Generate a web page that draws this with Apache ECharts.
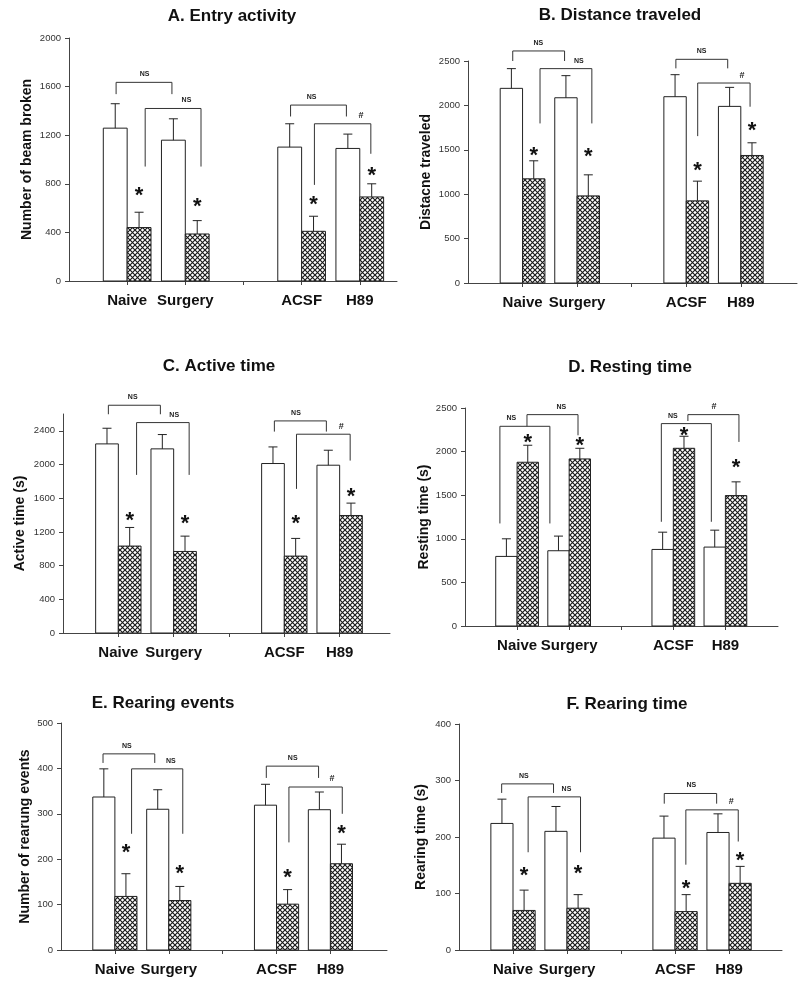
<!DOCTYPE html>
<html>
<head>
<meta charset="utf-8">
<script src="https://cdn.jsdelivr.net/npm/echarts@6/dist/echarts.min.js"></script>
<style>
  html, body { margin: 0; padding: 0; background: #fff; }
  #chart { width: 800px; height: 987px; }
</style>
</head>
<body>
<div id="chart"></div>
<script>
// panel texts
const titles = ['A. Entry activity', 'B. Distance traveled', 'C. Active time',
  'D. Resting time', 'E. Rearing events', 'F. Rearing time'];
const yNames = ['Number of beam broken', 'Distacne traveled', 'Active time (s)',
  'Resting time (s)', 'Number of rearung events', 'Rearing time (s)'];
const groups = ['Naive', 'Surgery', 'ACSF', 'H89'];

// y axes
const yMax = [2000, 2500, 2600, 2500, 500, 400];
const yStep = [400, 500, 400, 500, 100, 100];

// open bars (mean, upper error)
const openMean = [
  [1258, 1159, 1102, 1091],
  [2192, 2086, 2098, 1989],
  [2245, 2186, 2012, 1992],
  [798, 863, 878, 905],
  [337, 310, 319, 309],
  [224, 210, 198, 208]
];
const openSem = [
  [201, 176, 192, 118],
  [222, 249, 248, 214],
  [186, 170, 197, 178],
  [202, 168, 198, 194],
  [62, 43, 46, 39],
  [43, 44, 39, 33]
];
// cross-hatched bars
const hatchMean = [
  [440, 387, 409, 692],
  [1173, 981, 925, 1436],
  [1032, 968, 913, 1395],
  [1878, 1916, 2038, 1496],
  [118, 109, 101, 190],
  [70, 74, 68, 118]
];
const hatchSem = [
  [126, 110, 124, 108],
  [203, 237, 222, 143],
  [221, 182, 210, 147],
  [195, 122, 138, 157],
  [50, 31, 32, 43],
  [36, 24, 30, 30]
];
// where the * sits over each hatched bar (y value)
const starY = [
  [736, 645, 659, 901],
  [1477, 1466, 1308, 1752],
  [1383, 1344, 1344, 1660],
  [2149, 2111, 2225, 1863],
  [222, 176, 167, 265],
  [139, 141, 115, 165]
];
// brackets: x1, x2, top, left end, right end, label, label x
const brackets = [
  [[0.81, 1.77, 1635, 1538, 1538, 'NS', 1.30], [1.31, 2.27, 1420, 942, 942, 'NS', 2.02],
   [3.81, 4.77, 1448, 1354, 1354, 'NS', 4.17], [4.22, 5.19, 1294, 791, 1047, '#', 5.02]],
  [[0.82, 1.77, 2613, 2500, 2500, 'NS', 1.29], [1.32, 2.27, 2414, 1797, 1797, 'NS', 2.03],
   [3.81, 4.76, 2519, 2417, 2417, 'NS', 4.28], [4.21, 5.17, 2252, 1654, 1985, '#', 5.02]],
  [[0.82, 1.76, 2704, 2597, 2597, 'NS', 1.26], [1.33, 2.28, 2498, 1877, 1877, 'NS', 2.01],
   [3.82, 4.76, 2518, 2391, 2391, 'NS', 4.21], [4.22, 5.19, 2360, 1711, 2047, '#', 5.03]],
  [[0.67, 1.63, 2290, 1176, 1176, 'NS', 0.89], [1.19, 2.17, 2424, 2290, 2187, 'NS', 1.85],
   [3.77, 4.73, 2321, 1195, 1195, 'NS', 3.99], [4.28, 5.26, 2424, 2351, 2111, '#', 4.78]],
  [[0.78, 1.74, 432, 412, 412, 'NS', 1.22], [1.31, 2.26, 399, 256, 256, 'NS', 2.04],
   [3.81, 4.78, 405, 379, 379, 'NS', 4.30], [4.23, 5.22, 359, 237, 300, '#', 5.03]],
  [[0.79, 1.75, 294, 278, 278, 'NS', 1.20], [1.28, 2.25, 271, 173, 173, 'NS', 1.99],
   [3.80, 4.77, 277, 259, 259, 'NS', 4.30], [4.20, 5.17, 248, 151, 192, '#', 5.04]]
];

// layout
const FONT = '"Liberation Sans", Arial, sans-serif';
const grids = [
  { left: 69, top: 38, width: 328, height: 243 },
  { left: 468, top: 61, width: 329, height: 222 },
  { left: 63, top: 414, width: 327, height: 219 },
  { left: 465, top: 408, width: 313, height: 218 },
  { left: 61, top: 723, width: 326, height: 227 },
  { left: 459, top: 724, width: 323, height: 226 }
];
const xMax = [5.64, 6.03, 5.91, 6.01, 6.05, 5.98];
const nameGaps = [35, 35, 36, 34, 29, 31];
const titlePos = [[232, 16], [620, 15], [219, 366], [630, 367], [163, 703], [627, 704]];
const barW = 0.41;
const slotOf = i => (i < 2 ? i + 1 : i + 2);

function hatchPattern() {
  const c = document.createElement('canvas');
  c.width = 5; c.height = 5;
  const g = c.getContext('2d');
  g.fillStyle = '#fff';
  g.fillRect(0, 0, 5, 5);
  g.strokeStyle = '#1a1a1a';
  g.lineWidth = 1.15;
  g.beginPath();
  g.moveTo(-1, -1); g.lineTo(6, 6);
  g.moveTo(6, -1); g.lineTo(-1, 6);
  g.stroke();
  return c;
}
const hatch = { image: hatchPattern(), repeat: 'repeat' };

function errBar(cx, yTop, yEnd) {
  return [
    { type: 'line', shape: { x1: cx, y1: yTop, x2: cx, y2: yEnd }, style: { stroke: '#222', lineWidth: 1 } },
    { type: 'line', shape: { x1: cx - 4.5, y1: yEnd, x2: cx + 4.5, y2: yEnd }, style: { stroke: '#222', lineWidth: 1 } }
  ];
}

function renderBars(params, api) {
  const x = api.value(0);
  const w = api.size([barW, 0])[0];
  const base = api.coord([x, 0]);
  const oTop = api.coord([x, api.value(1)])[1];
  const oErr = api.coord([x, api.value(1) + api.value(2)])[1];
  const hTop = api.coord([x, api.value(3)])[1];
  const hErr = api.coord([x, api.value(3) + api.value(4)])[1];
  const sY = api.coord([x, api.value(5)])[1];
  const cx = base[0];
  return {
    type: 'group',
    children: [
      { type: 'rect', shape: { x: cx - w, y: oTop, width: w, height: base[1] - oTop },
        style: { fill: '#fff', stroke: '#222', lineWidth: 1 } },
      { type: 'rect', shape: { x: cx, y: hTop, width: w, height: base[1] - hTop },
        style: { fill: hatch, stroke: '#222', lineWidth: 1 } },
      ...errBar(cx - w / 2, oTop, oErr),
      ...errBar(cx + w / 2, hTop, hErr),
      { type: 'text', x: cx + w / 2, y: sY + 4,
        style: { text: '*', font: 'bold 22px ' + FONT, fill: '#111',
          align: 'center', verticalAlign: 'middle', textAlign: 'center', textVerticalAlign: 'middle' } }
    ]
  };
}

function renderBracket(label, params, api) {
  const p1 = api.coord([api.value(0), api.value(1)]);
  const p2 = api.coord([api.value(2), api.value(1)]);
  const e1 = api.coord([api.value(0), api.value(3)]);
  const e2 = api.coord([api.value(2), api.value(4)]);
  const lp = api.coord([api.value(5), api.value(1)]);
  return {
    type: 'group',
    children: [
      { type: 'polyline', shape: { points: [e1, p1, p2, e2] },
        style: { stroke: '#333', lineWidth: 1, fill: null } },
      { type: 'text', x: lp[0], y: lp[1] - 8,
        style: { text: label, font: 'bold ' + (label === '#' ? 9 : 7) + 'px ' + FONT, fill: '#222',
          align: 'center', verticalAlign: 'middle', textAlign: 'center', textVerticalAlign: 'middle' } }
    ]
  };
}

const xAxis = [], yAxis = [], series = [], graphic = [];
titles.forEach((t, p) => {
  xAxis.push({
    type: 'value', gridIndex: p, min: 0, max: xMax[p],
    axisLine: { show: true, lineStyle: { color: '#444', width: 1 } },
    axisTick: { show: true, length: 4, customValues: [1, 2, 3, 4, 5], lineStyle: { color: '#444' } },
    axisLabel: {
      customValues: [1, 2, 4, 5],
      formatter: v => groups[[1, 2, 4, 5].indexOf(v)] || '',
      fontFamily: FONT, fontSize: 15, fontWeight: 'bold', color: '#111', margin: 12
    },
    splitLine: { show: false }
  });
  const ticks = [];
  for (let v = 0; v <= yMax[p]; v += yStep[p]) ticks.push(v);
  yAxis.push({
    type: 'value', gridIndex: p, min: 0, max: yMax[p], interval: yStep[p],
    name: yNames[p], nameLocation: 'middle', nameGap: nameGaps[p],
    nameTextStyle: { fontFamily: FONT, fontSize: 14, fontWeight: 'bold', color: '#111' },
    axisLine: { show: true, lineStyle: { color: '#444', width: 1 } },
    axisTick: { show: true, length: 4, customValues: ticks, lineStyle: { color: '#444' } },
    axisLabel: { customValues: ticks, formatter: v => String(v),
      fontFamily: FONT, fontSize: 9.5, color: '#333', margin: 8 },
    splitLine: { show: false }
  });
  series.push({
    type: 'custom', xAxisIndex: p, yAxisIndex: p, silent: true,
    data: groups.map((g, i) => [slotOf(i), openMean[p][i], openSem[p][i],
      hatchMean[p][i], hatchSem[p][i], starY[p][i]]),
    encode: { x: 0, y: 1 },
    renderItem: renderBars
  });
  series.push({
    type: 'custom', xAxisIndex: p, yAxisIndex: p, silent: true,
    data: brackets[p].map(b => [b[0], b[2], b[1], b[3], b[4], b[6]]),
    encode: { x: 0, y: 1 },
    renderItem: (params, api) => renderBracket(brackets[p][params.dataIndex][5], params, api)
  });
  graphic.push({
    type: 'text', x: titlePos[p][0], y: titlePos[p][1],
    style: { text: t, font: 'bold 17px ' + FONT, fill: '#111',
      textAlign: 'center', textVerticalAlign: 'middle', align: 'center', verticalAlign: 'middle' }
  });
});

const chart = echarts.init(document.getElementById('chart'));
chart.setOption({
  animation: false,
  backgroundColor: '#fff',
  grid: grids,
  xAxis: xAxis,
  yAxis: yAxis,
  series: series,
  graphic: graphic
});
</script>
</body>
</html>
